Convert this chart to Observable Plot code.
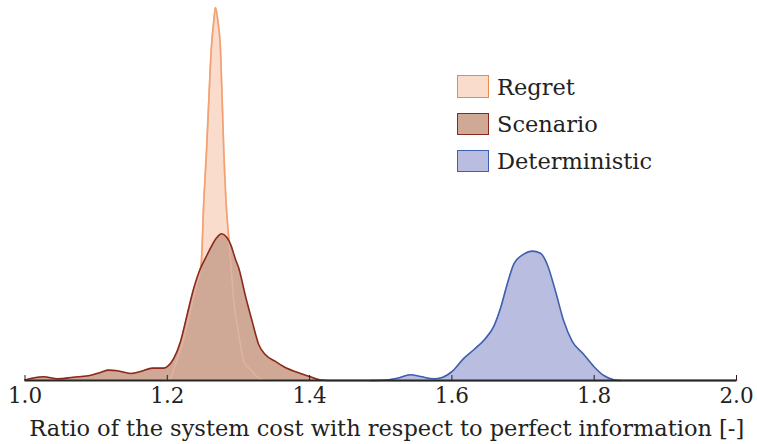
<!DOCTYPE html>
<html><head><meta charset="utf-8">
<script src="https://cdn.jsdelivr.net/npm/d3@7"></script>
<script src="https://cdn.jsdelivr.net/npm/@observablehq/plot@0.6"></script>
<style>
body{margin:0;background:#fff;}
#wrap{position:relative;width:757px;height:444px;}
#legend{position:absolute;left:457px;top:68px;font-family:"DejaVu Serif";font-size:22.5px;color:#222;}
.row{display:flex;align-items:center;height:37.2px;}
.sw{width:30px;height:20.5px;border:1.5px solid;margin-right:8px;}
</style>
</head><body>
<div id="wrap"><div id="legend"></div></div>
<script>
// ---- data (x = cost ratio, y = estimated density) ----
const seriesNames = ["Regret", "Scenario", "Deterministic"];
const strokeColors = ["#f08848", "#8b2a1c", "#3f5fb0"];
const fillColors = ["#fadccc", "#d0a896", "#b9bde0"];

const regret = [
  [1.1904,0],[1.1989,0.05],[1.2045,0.23],[1.2115,1.6],[1.2209,3.6],[1.2302,6.2],[1.2396,9.2],
  [1.2476,11.6],[1.2513,17.9],[1.2551,22.9],[1.2583,27.9],[1.2617,32.9],[1.2654,35.9],[1.2677,37.2],
  [1.2710,35.9],[1.2748,32.9],[1.2772,27.9],[1.2794,22.9],[1.2825,17.9],[1.2864,14.2],[1.2898,11.2],
  [1.2935,7.9],[1.3005,4.6],[1.3075,1.9],[1.3169,1.1],[1.3286,0.23],[1.3380,0]
];
const scenario = [
  [1.0000,0.05],[1.0260,0.37],[1.0457,0.17],[1.0682,0.33],[1.0892,0.47],[1.1061,0.8],[1.1174,1.03],
  [1.1300,0.97],[1.1483,0.7],[1.1623,0.9],[1.1792,1.23],[1.1947,1.23],[1.2003,1.4],[1.2091,2.2],
  [1.2186,3.9],[1.2280,6.6],[1.2372,9.2],[1.2467,11.2],[1.2537,12.2],[1.2607,13.2],[1.2691,14.2],
  [1.2762,14.63],[1.2832,14.3],[1.2888,13.6],[1.2958,12.1],[1.3005,11.2],[1.3099,8.4],[1.3193,5.9],
  [1.3286,3.57],[1.3380,2.57],[1.3521,1.9],[1.3633,1.4],[1.3872,0.7],[1.4013,0.37],[1.4154,0.05],
  [1.4364,0],[2.0,0]
];
const deterministic = [
  [1.4856,0],[1.5043,0.02],[1.5231,0.23],[1.5418,0.57],[1.5559,0.4],[1.5746,0.17],[1.5864,0.3],
  [1.6004,0.9],[1.6167,2.2],[1.6308,3.07],[1.6472,4.2],[1.6589,5.4],[1.6683,7.2],[1.6777,9.6],
  [1.6870,11.6],[1.7010,12.6],[1.7128,12.9],[1.7245,12.7],[1.7339,11.6],[1.7456,8.9],[1.7573,5.9],
  [1.7691,3.9],[1.7854,2.6],[1.7994,1.4],[1.8135,0.5],[1.8275,0.07],[1.8370,0]
];
const xTicks = [1.0, 1.2, 1.4, 1.6, 1.8, 2.0];
const xLabel = "Ratio of the system cost with respect to perfect information [-]";

const font = "DejaVu Serif";
const X = p => p[0], Y = p => p[1];

const marks = [
  Plot.areaY(regret, {x: X, y: Y, curve: "monotone-x", fill: fillColors[0]}),
  Plot.lineY(regret, {x: X, y: Y, curve: "monotone-x", stroke: strokeColors[0], strokeWidth: 1.6}),
  Plot.areaY(scenario, {x: X, y: Y, curve: "monotone-x", fill: fillColors[1]}),
  Plot.lineY(regret, {x: X, y: Y, curve: "monotone-x", stroke: "#f6c0a6", strokeOpacity: 0.45, strokeWidth: 1.6}),
  Plot.lineY(scenario, {x: X, y: Y, curve: "monotone-x", stroke: strokeColors[1], strokeWidth: 1.6}),
  Plot.areaY(deterministic, {x: X, y: Y, curve: "monotone-x", fill: fillColors[2]}),
  Plot.lineY(deterministic, {x: X, y: Y, curve: "monotone-x", stroke: strokeColors[2], strokeWidth: 1.6}),
  Plot.ruleY([0], {stroke: "#262626", strokeWidth: 2}),
  Plot.axisX({ticks: xTicks, tickSize: -5, tickPadding: 12.7, tickFormat: d3.format(".1f"),
    fontSize: 21.5, fontFamily: font, fill: "#222", stroke: "#222", label: null}),
  Plot.text([xLabel], {text: d => d, frameAnchor: "bottom", lineAnchor: "bottom", dy: 55, dx: 6,
    fontSize: 22.5, fontFamily: font, fill: "#222"})
];

const chart = Plot.plot({
  width: 757, height: 444,
  marginLeft: 24.5, marginRight: 21, marginTop: 7, marginBottom: 64,
  x: {domain: [1, 2]},
  y: {domain: [0, 37.2], axis: null},
  style: {background: "#fff", overflow: "visible"},
  marks
});
document.getElementById("wrap").prepend(chart);

const leg = d3.select("#legend");
seriesNames.forEach((name, i) => {
  const row = leg.append("div").attr("class", "row");
  row.append("div").attr("class", "sw").style("border-color", strokeColors[i]).style("background", fillColors[i]);
  row.append("span").text(name);
});
</script>
</body></html>
